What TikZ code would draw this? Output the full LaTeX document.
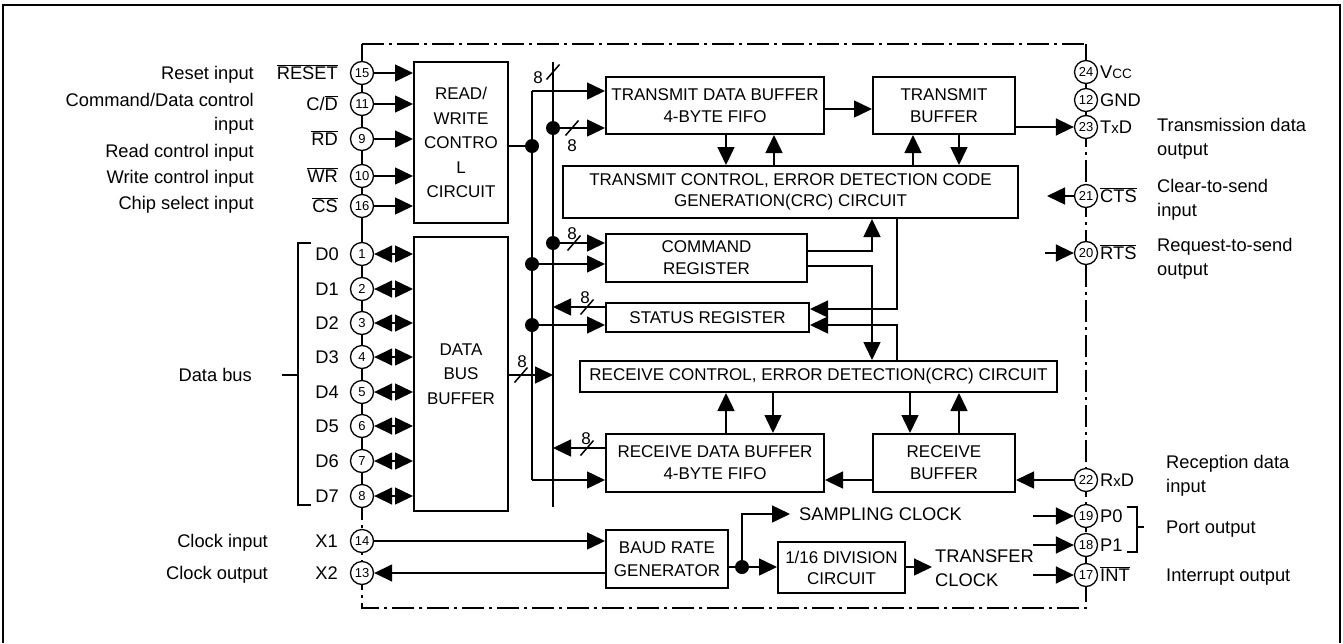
\documentclass[tikz,border=0pt]{standalone}
\usepackage{fontspec}
\setmainfont{Liberation Sans}
\usetikzlibrary{arrows.meta}
\newcommand{\lf}{\fontsize{18.3}{24}\selectfont}
\newcommand{\bxf}{\fontsize{17}{22}\selectfont}
\newcommand{\bxfw}{\fontsize{17}{24.5}\selectfont}
\newcommand{\pnf}{\fontsize{13}{13}\selectfont}
\newcommand{\ovl}[1]{\ensuremath{\overline{\mbox{#1}}}}
\begin{document}
\begin{tikzpicture}[x=1pt,y=-1pt,
  box/.style={draw, line width=2pt, inner sep=0pt, align=center, font=\bxf},
  pinc/.style={circle, draw, line width=1.3pt, minimum size=23pt, inner sep=0pt, font=\pnf, fill=white},
  arr/.style={line width=1.5pt, -{Triangle[length=18pt,width=17pt]}},
  darr/.style={line width=1.5pt, {Triangle[length=18pt,width=17pt]}-{Triangle[length=18pt,width=17pt]}},
  con/.style={line width=1.5pt},
  lblE/.style={anchor=east, inner sep=0pt, font=\lf, text height=13.1pt, text depth=0pt},
  lblW/.style={anchor=west, inner sep=0pt, font=\lf, text height=13.1pt, text depth=0pt},
  num/.style={inner sep=0pt, font=\bxf},
  jdot/.style={fill=black}]
\useasboundingbox (0,0) rectangle (1343,643);
% outer frame
\draw[line width=1.6pt] (3,643) -- (3,5) -- (1340,5) -- (1340,643);
% chip boundary
\draw[line width=2.5pt, dash pattern=on 22pt off 5pt on 3pt off 5pt] (362,44) -- (1086,44) -- (1086,608) -- (362,608) -- cycle;
\draw[line width=2.5pt] (362,44) -- (362,515);
\draw[line width=2.5pt] (1086,44) -- (1086,140);

% boxes
\node[box, font=\bxfw, minimum width=94pt, minimum height=161pt] (RW) at (461,142.5) {READ/\\WRITE\\CONTRO\\L\\CIRCUIT};
\node[box, font=\bxfw, minimum width=94pt, minimum height=274pt] (DBB) at (461,374) {DATA\\BUS\\BUFFER};
\node[box, minimum width=218pt, minimum height=57pt] (TDB) at (715,105.5) {TRANSMIT DATA BUFFER\\4-BYTE FIFO};
\node[box, minimum width=142pt, minimum height=57pt] (TB) at (944,105.5) {TRANSMIT\\BUFFER};
\node[box, font=\fontsize{17}{21}\selectfont, minimum width=455pt, minimum height=52pt] (TCE) at (790.5,192) {TRANSMIT CONTROL, ERROR DETECTION CODE\\GENERATION(CRC) CIRCUIT};
\node[box, minimum width=201pt, minimum height=48pt] (CMD) at (706.5,258) {COMMAND\\REGISTER};
\node[box, minimum width=203pt, minimum height=29pt] (SR) at (707.5,317.5) {STATUS REGISTER};
\node[box, minimum width=477pt, minimum height=31pt] (RCE) at (818.5,376.5) {RECEIVE CONTROL, ERROR DETECTION(CRC) CIRCUIT};
\node[box, minimum width=218pt, minimum height=58pt] (RDB) at (715,463) {RECEIVE DATA BUFFER\\4-BYTE FIFO};
\node[box, minimum width=142pt, minimum height=58pt] (RB) at (944,463) {RECEIVE\\BUFFER};
\node[box, font=\fontsize{17}{23}\selectfont, minimum width=122pt, minimum height=58pt] (BRG) at (667,559) {BAUD RATE\\GENERATOR};
\node[box, font=\fontsize{17}{21}\selectfont, minimum width=127pt, minimum height=51pt] (DIV) at (841.5,567.5) {1/16 DIVISION\\CIRCUIT};

% left pins
\foreach \n/\y in {15/73,11/104,9/139,10/176,16/206,1/254,2/289,3/323,4/357,5/392,6/426,7/461,8/496,14/541,13/573}
  \node[pinc] (p\n) at (362,\y) {\n};
% right pins
\foreach \n/\y in {24/72,12/100,23/127,21/196,20/253,22/480,19/516,18/545,17/575}
  \node[pinc] (p\n) at (1086,\y) {\n};

% left pin labels
\node[lblE] (lRESET) at (338,73) {\ovl{RESET}};
\node[lblE] (lCD) at (338,104) {C/\ovl{D}};
\node[lblE] (lRD) at (338,139) {\ovl{RD}};
\node[lblE] (lWR) at (338,176) {\ovl{WR}};
\node[lblE] (lCS) at (338,206) {\ovl{CS}};
\foreach \n/\y [count=\i from 0] in {1/254,2/289,3/323,4/357,5/392,6/426,7/461,8/496}
  \node[lblE] (lD\i) at (339,\y) {D\i};
\node[lblE] (lX1) at (338,541) {X1};
\node[lblE] (lX2) at (338,573) {X2};

% left descriptions
\node[lblE] (dReset) at (254,73) {Reset input};
\node[anchor=north east, align=right, inner sep=0pt, font=\lf] (dCD) at (254,93.5) {Command/Data control\\input};
\node[lblE] (dRD) at (254,151) {Read control input};
\node[lblE] (dWR) at (254,177) {Write control input};
\node[lblE] (dCS) at (254,203) {Chip select input};
\node[lblE] (dData) at (252,375) {Data bus};
\node[lblE] (dX1) at (268,541) {Clock input};
\node[lblE] (dX2) at (268,573) {Clock output};
% data bus bracket
\draw[line width=1.3pt] (311,243) -- (298,243) -- (298,505) -- (311,505);
\draw[line width=1.3pt] (dData.east) ++(30,0) -- (298,375);

% right pin labels
\node[lblW] (lVCC) at (1100,72) {V{\fontsize{13.5}{13.5}\selectfont CC}};
\node[lblW] (lGND) at (1100,100) {GND};
\node[lblW] (lTXD) at (1100,127) {T{\fontsize{15}{15}\selectfont x}D};
\node[lblW] (lCTS) at (1100,196) {\ovl{CTS}};
\node[lblW] (lRTS) at (1100,253) {\ovl{RTS}};
\node[lblW] (lRXD) at (1100,480) {R{\fontsize{15}{15}\selectfont x}D};
\node[lblW] (lP0) at (1100,516) {P0};
\node[lblW] (lP1) at (1100,545) {P1};
\node[lblW] (lINT) at (1100,575) {\ovl{INT}};
% right descriptions
\node[anchor=north west, align=left, inner sep=0pt, font=\lf] (dTX) at (1157,118.5) {Transmission data\\output};
\node[anchor=north west, align=left, inner sep=0pt, font=\lf] (dCTS) at (1157,179.5) {Clear-to-send\\input};
\node[anchor=north west, align=left, inner sep=0pt, font=\lf] (dRTS) at (1157,238.5) {Request-to-send\\output};
\node[anchor=north west, align=left, inner sep=0pt, font=\lf] (dRX) at (1166,455.5) {Reception data\\input};
\node[lblW] (dPort) at (1166,527) {Port output};
\node[lblW] (dINT) at (1166,575) {Interrupt output};
% port bracket
\draw[line width=1.3pt] (1127,507) -- (1137,507) -- (1137,552) -- (1127,552);
\draw[line width=1.3pt] (1137,527) -- (1144,527);

% left pin connectors
\foreach \n in {15,11,9,10,16} \draw[arr] (p\n) -- (RW.west |- p\n);
\foreach \n in {1,...,8} \draw[darr] (p\n) -- (DBB.west |- p\n);

% buses
\coordinate (bLt) at (532,91);
\coordinate (bLb) at (532,480);
\coordinate (bRt) at (553,62);
\coordinate (bRb) at (553,507);
\draw[con] (bLt) -- (bLb);
\draw[con] (bRt) -- (bRb);
\draw[arr] (bLt) -- (TDB.west |- bLt);
\draw[arr] (bLb) -- (RDB.west |- bLb);
\coordinate (j1) at (532,146);
\coordinate (j2) at (553,128);
\coordinate (j3) at (553,243);
\coordinate (j4) at (532,264);
\coordinate (j5) at (532,325);
\draw[con] (RW.east |- j1) -- (j1);
\draw[arr] (j2) -- (TDB.west |- j2);
\draw[arr] (j3) -- (CMD.west |- j3);
\draw[arr] (j4) -- (CMD.west |- j4);
\draw[arr] (j5) -- (SR.west |- j5);
\coordinate (s1) at (553,307);
\coordinate (s2) at (553,375);
\coordinate (s3) at (553,448);
\draw[arr] (SR.west |- s1) -- (s1);
\draw[arr] (DBB.east |- s2) -- (s2);
\draw[arr] (RDB.west |- s3) -- (s3);
\foreach \j in {j1,j2,j3,j4,j5} \fill[jdot] (\j) circle (7pt);
% bus width slashes
\foreach \x/\y in {553/72,572/128,574/243,587/307,521/375,587/448}
  \draw[con] (\x-6.5,\y+7.5) -- (\x+6.5,\y-7.5);
\node[num] (n1) at (538,78) {8};
\node[num] (n2) at (572,146) {8};
\node[num] (n3) at (572,234) {8};
\node[num] (n4) at (585,298) {8};
\node[num] (n5) at (522,362) {8};
\node[num] (n6) at (586,439) {8};

% internal connectors
\coordinate (xa) at (726,0);
\coordinate (xb) at (774,0);
\coordinate (xc) at (913,0);
\coordinate (xd) at (959,0);
\coordinate (xe) at (872,0);
\coordinate (xf) at (897,0);
\coordinate (xg) at (773,0);
\coordinate (xh) at (910,0);
\draw[arr] (TDB.south -| xa) -- (TCE.north -| xa);
\draw[arr] (TCE.north -| xb) -- (TDB.south -| xb);
\draw[arr] (TCE.north -| xc) -- (TB.south -| xc);
\draw[arr] (TB.south -| xd) -- (TCE.north -| xd);
\coordinate (ytt) at (0,109);
\draw[arr] (TDB.east |- ytt) -- (TB.west |- ytt);
\draw[arr] (TB.east |- p23) -- (p23);
\coordinate (yc1) at (0,251);
\coordinate (yc2) at (0,266);
\draw[arr] (CMD.east |- yc1) -| (TCE.south -| xe);
\draw[arr] (CMD.east |- yc2) -| (RCE.north -| xe);
\coordinate (ys1) at (0,309);
\coordinate (ys2) at (0,325);
\draw[arr] (TCE.south -| xf) |- (SR.east |- ys1);
\draw[arr] (RCE.north -| xf) |- (SR.east |- ys2);
\draw[arr] (RDB.north -| xa) -- (RCE.south -| xa);
\draw[arr] (RCE.south -| xg) -- (RDB.north -| xg);
\draw[arr] (RCE.south -| xh) -- (RB.north -| xh);
\draw[arr] (RB.north -| xd) -- (RCE.south -| xd);
\coordinate (yrb) at (0,480);
\draw[arr] (RB.west |- yrb) -- (RDB.east |- yrb);
\draw[arr] (p22) -- (RB.east |- p22);

% clock
\draw[arr] (p14) -- (BRG.west |- p14);
\draw[arr] (BRG.west |- p13) -- (p13);
\coordinate (jd) at (742,567);
\coordinate (smp) at (790,514);
\draw[con] (BRG.east |- jd) -- (jd);
\draw[arr] (jd) -- (DIV.west |- jd);
\draw[arr] (jd) |- (smp);
\fill[jdot] (jd) circle (7pt);
\node[lblW] (tSMP) at (799,514) {SAMPLING CLOCK};
\coordinate (tcl) at (932,567);
\draw[arr] (DIV.east |- tcl) -- (tcl);
\node[anchor=north west, align=left, inner sep=0pt, font=\lf] (tTRF) at (935,549.5) {TRANSFER\\CLOCK};

% right pin connectors
\coordinate (cts) at (1047,196);
\coordinate (rts) at (1045,253);
\coordinate (q19) at (1033,516);
\coordinate (q18) at (1033,545);
\coordinate (q17) at (1033,575);
\draw[arr] (p21) -- (cts);
\draw[arr] (rts) -- (p20);
\draw[arr] (q19) -- (p19);
\draw[arr] (q18) -- (p18);
\draw[arr] (q17) -- (p17);
\end{tikzpicture}
\end{document}
